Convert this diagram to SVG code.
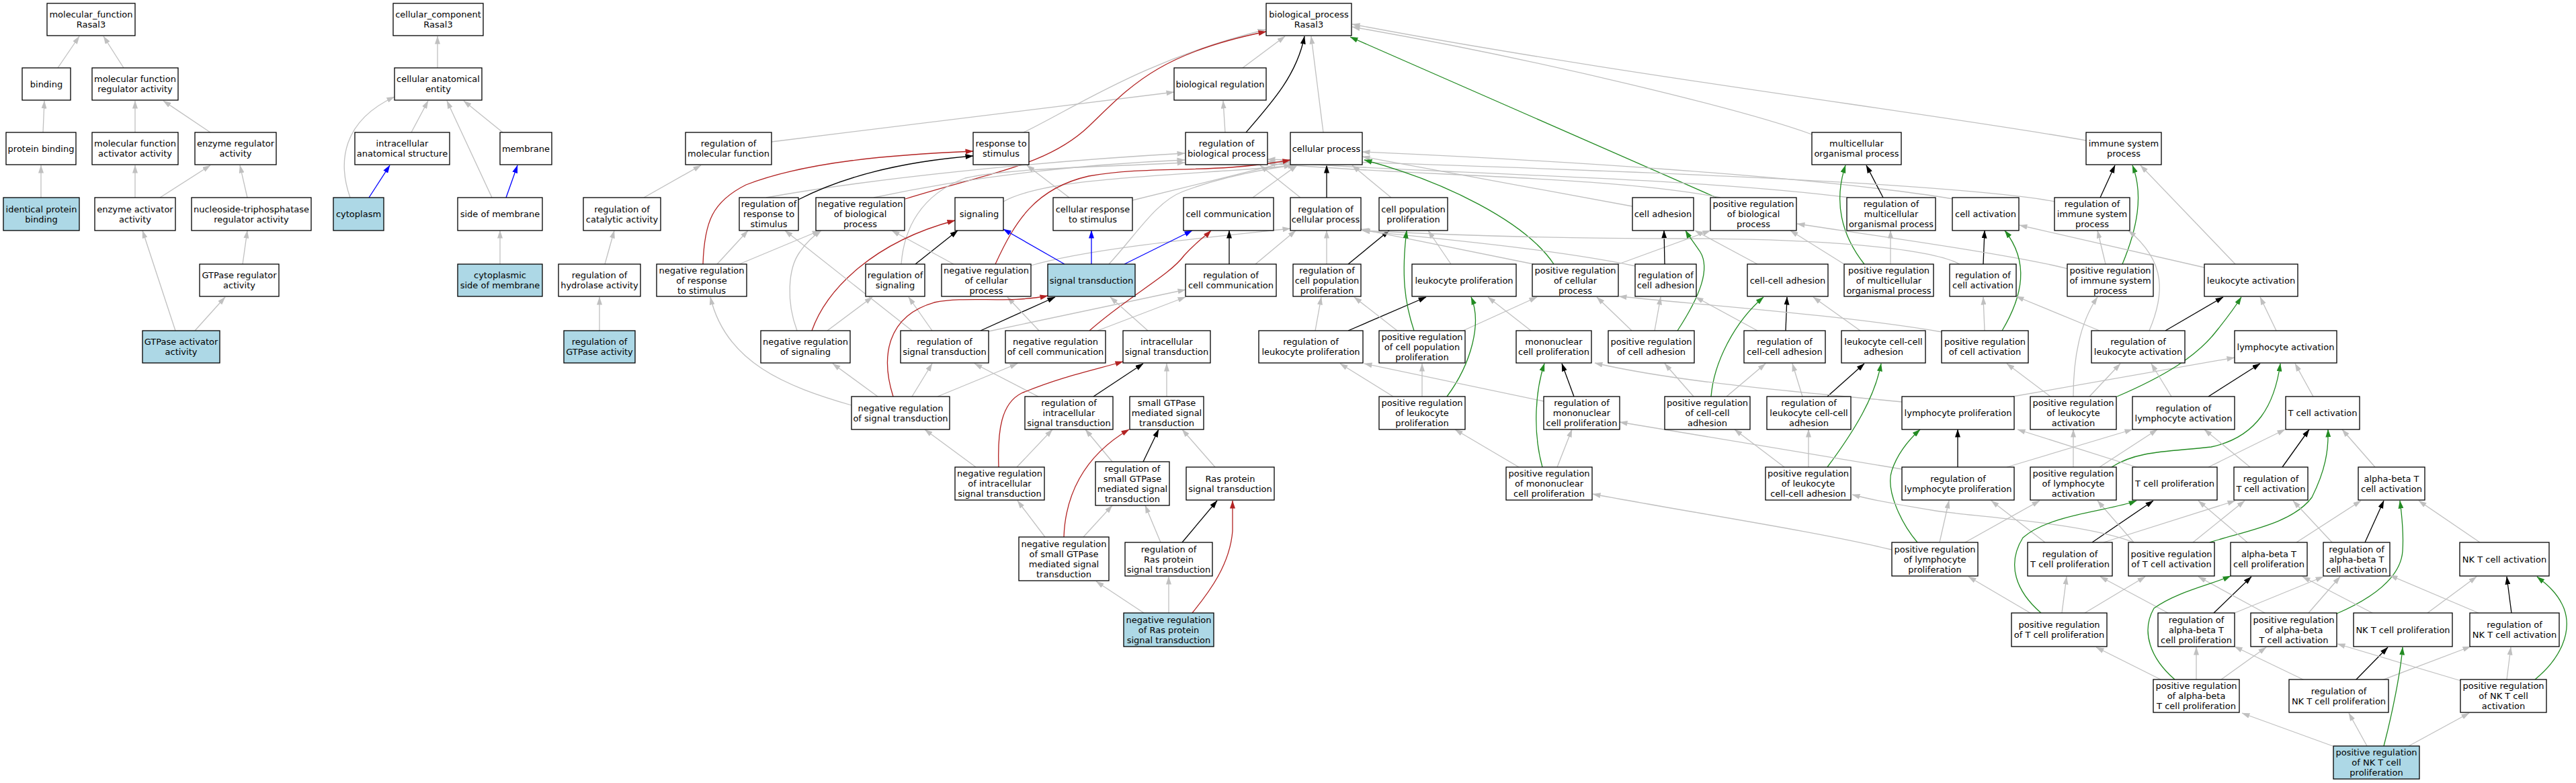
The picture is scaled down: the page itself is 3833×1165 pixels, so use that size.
<svg xmlns="http://www.w3.org/2000/svg" width="3833" height="1165" viewBox="0 0 3833 1165">
<style>
.n rect{fill:#fff;stroke:#000;stroke-width:1.3}
.n.q rect{fill:#ADD8E6}
.n text{font-family:"DejaVu Sans",Verdana,sans-serif;font-size:13px;text-anchor:middle;fill:#000}
.c path{fill:none;stroke-width:1.3}
.c .e{stroke:#C0C0C0;marker-end:url(#mg)}
.c .k{stroke:#000;marker-end:url(#mk)}
.c .r{stroke:#B22222;marker-end:url(#mr)}
.c .g{stroke:#228B22;marker-end:url(#mG)}
.c .b{stroke:#0000FF;marker-end:url(#mb)}
</style>
<defs>
<marker id="mg" viewBox="0 0 12 8" markerWidth="12" markerHeight="8" refX="11.5" refY="4" orient="auto" markerUnits="userSpaceOnUse"><path d="M0,0L12,4L0,8z" fill="#C0C0C0"/></marker>
<marker id="mk" viewBox="0 0 12 8" markerWidth="12" markerHeight="8" refX="11.5" refY="4" orient="auto" markerUnits="userSpaceOnUse"><path d="M0,0L12,4L0,8z" fill="#000"/></marker>
<marker id="mr" viewBox="0 0 12 8" markerWidth="12" markerHeight="8" refX="11.5" refY="4" orient="auto" markerUnits="userSpaceOnUse"><path d="M0,0L12,4L0,8z" fill="#B22222"/></marker>
<marker id="mG" viewBox="0 0 12 8" markerWidth="12" markerHeight="8" refX="11.5" refY="4" orient="auto" markerUnits="userSpaceOnUse"><path d="M0,0L12,4L0,8z" fill="#228B22"/></marker>
<marker id="mb" viewBox="0 0 12 8" markerWidth="12" markerHeight="8" refX="11.5" refY="4" orient="auto" markerUnits="userSpaceOnUse"><path d="M0,0L12,4L0,8z" fill="#0000FF"/></marker>
</defs>
<rect x="0" y="0" width="3833" height="1165" fill="#fff"/>
<g id="connectors" class="c">
<path class="e" d="M86,101L118,54"/>
<path class="e" d="M184,101L154,54"/>
<path class="e" d="M64,197L66,150"/>
<path class="e" d="M201,197L201,150"/>
<path class="e" d="M313,197L243,150"/>
<path class="e" d="M61,294L61,246"/>
<path class="e" d="M201,294L201,246"/>
<path class="e" d="M238,294L313,246"/>
<path class="e" d="M368,294L357,246"/>
<path class="e" d="M361,393L368,343"/>
<path class="e" d="M290,492L335,442"/>
<path class="e" d="M261,492L212,343"/>
<path class="e" d="M651,101L651,54"/>
<path class="e" d="M521,294C502,240 510,180 587,144"/>
<path class="b" d="M549,294L580,246"/>
<path class="e" d="M612,197L637,150"/>
<path class="e" d="M732,294L665,150"/>
<path class="e" d="M748,197L690,150"/>
<path class="b" d="M753,294L770,246"/>
<path class="e" d="M744,393L744,343"/>
<path class="e" d="M900,393L914,343"/>
<path class="e" d="M892,492L892,442"/>
<path class="e" d="M958,294L1043,246"/>
<path class="e" d="M1148,211L1747,137"/>
<path class="e" d="M1849,101L1912,54"/>
<path class="e" d="M1823,197L1820,150"/>
<path class="k" d="M1854,197C1895,150 1930,110 1941,54"/>
<path class="e" d="M1523,197C1600,160 1700,90 1883,44"/>
<path class="e" d="M1969,197L1951,54"/>
<path class="r" d="M1347,296C1480,255 1560,245 1620,188S1720,80 1884,47"/>
<path class="g" d="M2554,294L2009,55"/>
<path class="e" d="M2696,200C2600,165 2300,90 2012,40"/>
<path class="e" d="M3104,209C2900,172 2400,110 2012,36"/>
<path class="e" d="M1300,294C1450,262 1600,245 1763,238"/>
<path class="e" d="M2560,294C2400,262 2100,262 1886,243"/>
<path class="e" d="M1935,294L1875,246"/>
<path class="k" d="M1974,294L1974,246"/>
<path class="e" d="M1140,294C1300,265 1550,240 1763,228"/>
<path class="k" d="M1188,297C1260,260 1350,240 1448,232"/>
<path class="e" d="M1591,294L1528,246"/>
<path class="e" d="M1685,298L1920,240"/>
<path class="e" d="M1493,300C1560,262 1760,262 1928,246"/>
<path class="e" d="M1864,294L1930,246"/>
<path class="e" d="M2070,294L2012,246"/>
<path class="e" d="M2429,307L2027,233"/>
<path class="e" d="M2906,296C2700,262 2300,238 2027,226"/>
<path class="e" d="M2752,294C2500,262 2100,258 1886,240"/>
<path class="k" d="M2802,294L2777,246"/>
<path class="e" d="M3058,300C2900,270 2300,250 1886,237"/>
<path class="k" d="M3125,294L3147,246"/>
<path class="r" d="M1046,393C1048,330 1060,300 1110,275C1200,240 1330,230 1448,225"/>
<path class="e" d="M1067,393L1113,343"/>
<path class="e" d="M1100,393L1220,343"/>
<path class="e" d="M1341,393C1345,340 1370,290 1436,265C1500,250 1650,248 1763,242"/>
<path class="k" d="M1362,393L1425,343"/>
<path class="e" d="M1534,395C1620,370 1780,355 1920,340"/>
<path class="r" d="M1481,393C1510,330 1540,280 1620,262C1720,245 1800,260 1920,238"/>
<path class="e" d="M1419,393L1327,343"/>
<path class="b" d="M1584,393L1493,341"/>
<path class="b" d="M1624,393L1624,343"/>
<path class="b" d="M1673,393L1774,343"/>
<path class="e" d="M1650,393C1690,350 1720,300 1760,285C1820,262 1880,252 1922,246"/>
<path class="k" d="M1829,393L1829,343"/>
<path class="e" d="M1868,393L1928,343"/>
<path class="e" d="M1974,393L1974,343"/>
<path class="k" d="M2006,393L2067,343"/>
<path class="e" d="M2159,393L2125,343"/>
<path class="e" d="M2282,393L2025,341"/>
<path class="g" d="M2312,393C2270,330 2150,270 2030,238"/>
<path class="e" d="M2408,393L2545,343"/>
<path class="e" d="M2434,396C2300,368 2100,352 2027,343"/>
<path class="k" d="M2477,393L2476,343"/>
<path class="e" d="M2615,393L2522,343"/>
<path class="e" d="M2744,393L2664,343"/>
<path class="g" d="M2774,393C2740,350 2728,300 2746,246"/>
<path class="e" d="M2813,393L2813,343"/>
<path class="e" d="M2916,393C2870,368 2700,355 2500,355C2300,355 2120,348 2027,343"/>
<path class="k" d="M2951,393L2953,343"/>
<path class="e" d="M3077,400C3000,380 2800,352 2674,333"/>
<path class="e" d="M3133,393L3121,343"/>
<path class="g" d="M3158,393C3180,340 3190,290 3173,246"/>
<path class="e" d="M3326,393L3185,246"/>
<path class="e" d="M3280,398L3005,335"/>
<path class="e" d="M1231,492L1298,442"/>
<path class="r" d="M1208,492C1230,430 1300,360 1421,328"/>
<path class="e" d="M1186,492C1170,450 1172,400 1190,375C1200,360 1210,352 1222,343"/>
<path class="e" d="M1387,492L1352,442"/>
<path class="k" d="M1459,492L1570,442"/>
<path class="e" d="M1471,493L1764,431"/>
<path class="e" d="M1357,492L1168,343"/>
<path class="e" d="M1546,492L1499,442"/>
<path class="e" d="M1633,492L1764,442"/>
<path class="r" d="M1621,492C1680,440 1740,410 1762,380C1780,360 1795,350 1802,343"/>
<path class="e" d="M1708,492L1652,442"/>
<path class="e" d="M1957,492L1966,442"/>
<path class="k" d="M2006,492L2122,442"/>
<path class="e" d="M2079,492L2015,442"/>
<path class="e" d="M2177,492L2287,442"/>
<path class="g" d="M2104,492C2090,450 2085,410 2093,343"/>
<path class="e" d="M2278,492L2214,442"/>
<path class="e" d="M2462,492L2471,442"/>
<path class="e" d="M2428,492L2376,442"/>
<path class="g" d="M2496,492C2530,440 2545,400 2530,375C2520,360 2512,350 2508,343"/>
<path class="e" d="M2615,492L2523,442"/>
<path class="k" d="M2657,492L2659,442"/>
<path class="e" d="M2768,492L2698,442"/>
<path class="e" d="M2953,492L2951,442"/>
<path class="g" d="M2979,492C3010,440 3020,390 2983,343"/>
<path class="e" d="M2890,494C2750,470 2550,455 2409,441"/>
<path class="e" d="M3124,492L3000,441"/>
<path class="k" d="M3222,492L3308,442"/>
<path class="e" d="M3198,492C3220,440 3225,390 3167,343"/>
<path class="e" d="M3387,492L3363,442"/>
<path class="e" d="M1267,603C1170,575 1080,540 1057,442"/>
<path class="e" d="M1306,590L1239,541"/>
<path class="e" d="M1357,590L1387,541"/>
<path class="e" d="M1395,590L1514,541"/>
<path class="r" d="M1329,590C1310,530 1320,470 1390,450C1440,440 1500,452 1559,440"/>
<path class="e" d="M1545,590L1450,541"/>
<path class="k" d="M1627,590L1701,541"/>
<path class="e" d="M1736,590L1736,541"/>
<path class="e" d="M2073,590L1994,541"/>
<path class="e" d="M2116,590L2116,541"/>
<path class="g" d="M2153,590C2190,540 2205,480 2189,442"/>
<path class="e" d="M2297,597L2030,541"/>
<path class="k" d="M2342,590L2324,541"/>
<path class="e" d="M2569,590L2627,541"/>
<path class="e" d="M2520,590L2477,541"/>
<path class="g" d="M2546,590C2550,540 2580,480 2624,442"/>
<path class="e" d="M2682,590L2667,541"/>
<path class="k" d="M2719,590L2774,541"/>
<path class="e" d="M2830,598C2700,585 2500,570 2373,540"/>
<path class="e" d="M2995,590L3325,532"/>
<path class="e" d="M3109,590L3155,541"/>
<path class="e" d="M3051,590L2986,541"/>
<path class="g" d="M3150,590C3220,560 3270,530 3300,490C3320,465 3330,450 3335,442"/>
<path class="e" d="M3085,590C3085,530 3095,480 3121,442"/>
<path class="e" d="M3231,590L3201,541"/>
<path class="k" d="M3286,590L3363,541"/>
<path class="e" d="M3442,590L3415,541"/>
<path class="r" d="M1486,695C1484,640 1490,600 1520,585C1580,560 1630,550 1671,538"/>
<path class="e" d="M1452,695L1376,639"/>
<path class="e" d="M1513,695L1566,639"/>
<path class="e" d="M1655,687L1615,639"/>
<path class="k" d="M1701,687L1724,639"/>
<path class="e" d="M1808,695L1759,639"/>
<path class="e" d="M2317,695L2339,639"/>
<path class="g" d="M2295,695C2280,640 2285,580 2298,541"/>
<path class="e" d="M2260,695L2165,639"/>
<path class="e" d="M2691,695L2691,639"/>
<path class="e" d="M2655,695L2581,639"/>
<path class="g" d="M2719,695C2760,640 2790,590 2799,541"/>
<path class="e" d="M2830,698L2410,628"/>
<path class="k" d="M2913,695L2913,639"/>
<path class="e" d="M2986,695L3173,639"/>
<path class="e" d="M3124,695L3210,639"/>
<path class="e" d="M3085,695L3085,639"/>
<path class="g" d="M3142,695C3180,670 3230,672 3290,665C3360,650 3385,600 3393,541"/>
<path class="e" d="M3179,695L3002,639"/>
<path class="e" d="M3286,695L3400,639"/>
<path class="e" d="M3348,695L3280,639"/>
<path class="k" d="M3396,695L3436,639"/>
<path class="e" d="M3534,695L3485,639"/>
<path class="r" d="M1583,799C1585,740 1610,680 1680,639"/>
<path class="e" d="M1555,799L1514,745"/>
<path class="e" d="M1612,799L1655,752"/>
<path class="e" d="M1727,807L1704,752"/>
<path class="k" d="M1759,807L1811,745"/>
<path class="e" d="M2886,807L2900,745"/>
<path class="g" d="M2853,807C2830,780 2805,730 2815,700C2825,670 2845,650 2857,639"/>
<path class="e" d="M2815,818C2700,790 2500,760 2370,735"/>
<path class="e" d="M2924,807L3035,745"/>
<path class="e" d="M3043,807L2963,745"/>
<path class="k" d="M3113,807L3204,745"/>
<path class="e" d="M3130,807L3326,745"/>
<path class="e" d="M3263,807L3340,745"/>
<path class="e" d="M3175,807L3121,745"/>
<path class="g" d="M3288,807C3340,790 3410,780 3440,740C3460,700 3465,670 3464,639"/>
<path class="e" d="M3175,807C3100,778 2950,770 2880,760C2830,752 2790,745 2756,736"/>
<path class="e" d="M3344,807L3271,745"/>
<path class="e" d="M3417,807L3513,745"/>
<path class="k" d="M3519,807L3547,745"/>
<path class="e" d="M3470,807L3412,745"/>
<path class="e" d="M3690,807L3599,745"/>
<path class="r" d="M1774,912C1800,880 1830,840 1834,790L1834,745"/>
<path class="e" d="M1739,912L1739,858"/>
<path class="e" d="M1702,912L1631,865"/>
<path class="e" d="M3068,912L3075,858"/>
<path class="g" d="M3037,912C3000,880 2985,840 3010,800C3050,765 3140,760 3179,745"/>
<path class="e" d="M3021,912L2929,858"/>
<path class="e" d="M3102,912L3192,858"/>
<path class="e" d="M3226,912L3125,858"/>
<path class="k" d="M3294,912L3350,858"/>
<path class="e" d="M3325,912L3457,858"/>
<path class="e" d="M3370,912L3271,858"/>
<path class="e" d="M3435,912L3482,858"/>
<path class="g" d="M3477,913C3530,890 3572,860 3575,820C3577,790 3573,760 3571,745"/>
<path class="e" d="M3530,912L3426,858"/>
<path class="e" d="M3612,912L3685,858"/>
<path class="e" d="M3688,912L3556,856"/>
<path class="k" d="M3737,912L3730,858"/>
<path class="e" d="M3268,1011L3268,963"/>
<path class="g" d="M3236,1011C3200,980 3185,940 3205,905C3240,880 3290,870 3319,857"/>
<path class="e" d="M3215,1011L3119,963"/>
<path class="e" d="M3305,1011L3372,963"/>
<path class="e" d="M3429,1012L3325,962"/>
<path class="k" d="M3505,1012L3553,963"/>
<path class="e" d="M3544,1012L3676,962"/>
<path class="e" d="M3730,1011L3736,963"/>
<path class="g" d="M3772,1011C3810,980 3828,940 3815,905C3805,880 3785,866 3775,858"/>
<path class="e" d="M3662,1013L3478,958"/>
<path class="e" d="M3471,1110L3336,1061"/>
<path class="e" d="M3522,1110L3495,1061"/>
<path class="g" d="M3547,1110C3560,1060 3572,1000 3575,963"/>
<path class="e" d="M3584,1110L3674,1061"/>
</g>
<g id="mf" class="n"><rect x="70" y="5" width="131" height="48"/><text><tspan x="135.5" y="26">molecular_function</tspan><tspan x="135.5" y="41">Rasal3</tspan></text></g>
<g id="cc" class="n"><rect x="585" y="5" width="134" height="48"/><text><tspan x="652" y="26">cellular_component</tspan><tspan x="652" y="41">Rasal3</tspan></text></g>
<g id="bp" class="n"><rect x="1884" y="5" width="127" height="48"/><text><tspan x="1947.5" y="26">biological_process</tspan><tspan x="1947.5" y="41">Rasal3</tspan></text></g>
<g id="binding" class="n"><rect x="33" y="101" width="72" height="48"/><text><tspan x="69" y="129.5">binding</tspan></text></g>
<g id="mfreg" class="n"><rect x="137" y="101" width="128" height="48"/><text><tspan x="201" y="122">molecular function</tspan><tspan x="201" y="137">regulator activity</tspan></text></g>
<g id="cae" class="n"><rect x="587" y="101" width="130" height="48"/><text><tspan x="652" y="122">cellular anatomical</tspan><tspan x="652" y="137">entity</tspan></text></g>
<g id="bioreg" class="n"><rect x="1747" y="101" width="137" height="48"/><text><tspan x="1815.5" y="129.5">biological regulation</tspan></text></g>
<g id="pb" class="n"><rect x="9" y="197" width="104" height="48"/><text><tspan x="61" y="225.5">protein binding</tspan></text></g>
<g id="mfact" class="n"><rect x="137" y="197" width="128" height="48"/><text><tspan x="201" y="218">molecular function</tspan><tspan x="201" y="233">activator activity</tspan></text></g>
<g id="enzreg" class="n"><rect x="290" y="197" width="121" height="48"/><text><tspan x="350.5" y="218">enzyme regulator</tspan><tspan x="350.5" y="233">activity</tspan></text></g>
<g id="ias" class="n"><rect x="528" y="197" width="141" height="48"/><text><tspan x="598.5" y="218">intracellular</tspan><tspan x="598.5" y="233">anatomical structure</tspan></text></g>
<g id="membrane" class="n"><rect x="744" y="197" width="77" height="48"/><text><tspan x="782.5" y="225.5">membrane</tspan></text></g>
<g id="regmf" class="n"><rect x="1020" y="197" width="128" height="48"/><text><tspan x="1084" y="218">regulation of</tspan><tspan x="1084" y="233">molecular function</tspan></text></g>
<g id="rts" class="n"><rect x="1448" y="197" width="83" height="48"/><text><tspan x="1489.5" y="218">response to</tspan><tspan x="1489.5" y="233">stimulus</tspan></text></g>
<g id="regbp" class="n"><rect x="1764" y="197" width="122" height="48"/><text><tspan x="1825" y="218">regulation of</tspan><tspan x="1825" y="233">biological process</tspan></text></g>
<g id="cp" class="n"><rect x="1920" y="197" width="107" height="48"/><text><tspan x="1973.5" y="225.5">cellular process</tspan></text></g>
<g id="mop" class="n"><rect x="2696" y="197" width="133" height="48"/><text><tspan x="2762.5" y="218">multicellular</tspan><tspan x="2762.5" y="233">organismal process</tspan></text></g>
<g id="isp" class="n"><rect x="3104" y="197" width="112" height="48"/><text><tspan x="3160" y="218">immune system</tspan><tspan x="3160" y="233">process</tspan></text></g>
<g id="ipb" class="n q"><rect x="5" y="294" width="113" height="49"/><text><tspan x="61.5" y="315.5">identical protein</tspan><tspan x="61.5" y="330.5">binding</tspan></text></g>
<g id="enzact" class="n"><rect x="141" y="294" width="120" height="49"/><text><tspan x="201" y="315.5">enzyme activator</tspan><tspan x="201" y="330.5">activity</tspan></text></g>
<g id="ntpreg" class="n"><rect x="285" y="294" width="178" height="49"/><text><tspan x="374" y="315.5">nucleoside-triphosphatase</tspan><tspan x="374" y="330.5">regulator activity</tspan></text></g>
<g id="cyto" class="n q"><rect x="496" y="294" width="75" height="49"/><text><tspan x="533.5" y="323">cytoplasm</tspan></text></g>
<g id="som" class="n"><rect x="681" y="294" width="126" height="49"/><text><tspan x="744" y="323">side of membrane</tspan></text></g>
<g id="regcat" class="n"><rect x="868" y="294" width="115" height="49"/><text><tspan x="925.5" y="315.5">regulation of</tspan><tspan x="925.5" y="330.5">catalytic activity</tspan></text></g>
<g id="regrts" class="n"><rect x="1100" y="294" width="88" height="49"/><text><tspan x="1144" y="308">regulation of</tspan><tspan x="1144" y="323">response to</tspan><tspan x="1144" y="338">stimulus</tspan></text></g>
<g id="negbp" class="n"><rect x="1214" y="294" width="132" height="49"/><text><tspan x="1280" y="308">negative regulation</tspan><tspan x="1280" y="323">of biological</tspan><tspan x="1280" y="338">process</tspan></text></g>
<g id="sig" class="n"><rect x="1421" y="294" width="72" height="49"/><text><tspan x="1457" y="323">signaling</tspan></text></g>
<g id="crs" class="n"><rect x="1567" y="294" width="118" height="49"/><text><tspan x="1626" y="315.5">cellular response</tspan><tspan x="1626" y="330.5">to stimulus</tspan></text></g>
<g id="ccomm" class="n"><rect x="1761" y="294" width="134" height="49"/><text><tspan x="1828" y="323">cell communication</tspan></text></g>
<g id="regcp" class="n"><rect x="1920" y="294" width="105" height="49"/><text><tspan x="1972.5" y="315.5">regulation of</tspan><tspan x="1972.5" y="330.5">cellular process</tspan></text></g>
<g id="cpp" class="n"><rect x="2052" y="294" width="102" height="49"/><text><tspan x="2103" y="315.5">cell population</tspan><tspan x="2103" y="330.5">proliferation</tspan></text></g>
<g id="cadh" class="n"><rect x="2429" y="294" width="91" height="49"/><text><tspan x="2474.5" y="323">cell adhesion</tspan></text></g>
<g id="posbp" class="n"><rect x="2545" y="294" width="128" height="49"/><text><tspan x="2609" y="308">positive regulation</tspan><tspan x="2609" y="323">of biological</tspan><tspan x="2609" y="338">process</tspan></text></g>
<g id="regmop" class="n"><rect x="2748" y="294" width="132" height="49"/><text><tspan x="2814" y="308">regulation of</tspan><tspan x="2814" y="323">multicellular</tspan><tspan x="2814" y="338">organismal process</tspan></text></g>
<g id="cact" class="n"><rect x="2905" y="294" width="99" height="49"/><text><tspan x="2954.5" y="323">cell activation</tspan></text></g>
<g id="regisp" class="n"><rect x="3057" y="294" width="112" height="49"/><text><tspan x="3113" y="308">regulation of</tspan><tspan x="3113" y="323">immune system</tspan><tspan x="3113" y="338">process</tspan></text></g>
<g id="gtpreg" class="n"><rect x="297" y="393" width="118" height="48"/><text><tspan x="356" y="414">GTPase regulator</tspan><tspan x="356" y="429">activity</tspan></text></g>
<g id="csom" class="n q"><rect x="681" y="393" width="126" height="48"/><text><tspan x="744" y="414">cytoplasmic</tspan><tspan x="744" y="429">side of membrane</tspan></text></g>
<g id="reghyd" class="n"><rect x="831" y="393" width="122" height="48"/><text><tspan x="892" y="414">regulation of</tspan><tspan x="892" y="429">hydrolase activity</tspan></text></g>
<g id="negrts" class="n"><rect x="977" y="393" width="134" height="48"/><text><tspan x="1044" y="406.5">negative regulation</tspan><tspan x="1044" y="421.5">of response</tspan><tspan x="1044" y="436.5">to stimulus</tspan></text></g>
<g id="regsig" class="n"><rect x="1288" y="393" width="88" height="48"/><text><tspan x="1332" y="414">regulation of</tspan><tspan x="1332" y="429">signaling</tspan></text></g>
<g id="negcp" class="n"><rect x="1401" y="393" width="133" height="48"/><text><tspan x="1467.5" y="406.5">negative regulation</tspan><tspan x="1467.5" y="421.5">of cellular</tspan><tspan x="1467.5" y="436.5">process</tspan></text></g>
<g id="st" class="n q"><rect x="1559" y="393" width="130" height="48"/><text><tspan x="1624" y="421.5">signal transduction</tspan></text></g>
<g id="regcc" class="n"><rect x="1764" y="393" width="135" height="48"/><text><tspan x="1831.5" y="414">regulation of</tspan><tspan x="1831.5" y="429">cell communication</tspan></text></g>
<g id="regcpp" class="n"><rect x="1924" y="393" width="101" height="48"/><text><tspan x="1974.5" y="406.5">regulation of</tspan><tspan x="1974.5" y="421.5">cell population</tspan><tspan x="1974.5" y="436.5">proliferation</tspan></text></g>
<g id="lprol" class="n"><rect x="2101" y="393" width="155" height="48"/><text><tspan x="2178.5" y="421.5">leukocyte proliferation</tspan></text></g>
<g id="poscp" class="n"><rect x="2280" y="393" width="128" height="48"/><text><tspan x="2344" y="406.5">positive regulation</tspan><tspan x="2344" y="421.5">of cellular</tspan><tspan x="2344" y="436.5">process</tspan></text></g>
<g id="regcadh" class="n"><rect x="2433" y="393" width="91" height="48"/><text><tspan x="2478.5" y="414">regulation of</tspan><tspan x="2478.5" y="429">cell adhesion</tspan></text></g>
<g id="ccadh" class="n"><rect x="2600" y="393" width="120" height="48"/><text><tspan x="2660" y="421.5">cell-cell adhesion</tspan></text></g>
<g id="posmop" class="n"><rect x="2744" y="393" width="133" height="48"/><text><tspan x="2810.5" y="406.5">positive regulation</tspan><tspan x="2810.5" y="421.5">of multicellular</tspan><tspan x="2810.5" y="436.5">organismal process</tspan></text></g>
<g id="regcact" class="n"><rect x="2901" y="393" width="99" height="48"/><text><tspan x="2950.5" y="414">regulation of</tspan><tspan x="2950.5" y="429">cell activation</tspan></text></g>
<g id="posisp" class="n"><rect x="3076" y="393" width="128" height="48"/><text><tspan x="3140" y="406.5">positive regulation</tspan><tspan x="3140" y="421.5">of immune system</tspan><tspan x="3140" y="436.5">process</tspan></text></g>
<g id="lact" class="n"><rect x="3280" y="393" width="139" height="48"/><text><tspan x="3349.5" y="421.5">leukocyte activation</tspan></text></g>
<g id="gtpact" class="n q"><rect x="212" y="492" width="115" height="48"/><text><tspan x="269.5" y="513">GTPase activator</tspan><tspan x="269.5" y="528">activity</tspan></text></g>
<g id="reggtp" class="n q"><rect x="839" y="492" width="106" height="48"/><text><tspan x="892" y="513">regulation of</tspan><tspan x="892" y="528">GTPase activity</tspan></text></g>
<g id="negsig" class="n"><rect x="1132" y="492" width="133" height="48"/><text><tspan x="1198.5" y="513">negative regulation</tspan><tspan x="1198.5" y="528">of signaling</tspan></text></g>
<g id="regst" class="n"><rect x="1340" y="492" width="131" height="48"/><text><tspan x="1405.5" y="513">regulation of</tspan><tspan x="1405.5" y="528">signal transduction</tspan></text></g>
<g id="negcc" class="n"><rect x="1496" y="492" width="149" height="48"/><text><tspan x="1570.5" y="513">negative regulation</tspan><tspan x="1570.5" y="528">of cell communication</tspan></text></g>
<g id="ist" class="n"><rect x="1671" y="492" width="130" height="48"/><text><tspan x="1736" y="513">intracellular</tspan><tspan x="1736" y="528">signal transduction</tspan></text></g>
<g id="reglprol" class="n"><rect x="1873" y="492" width="155" height="48"/><text><tspan x="1950.5" y="513">regulation of</tspan><tspan x="1950.5" y="528">leukocyte proliferation</tspan></text></g>
<g id="poscpp" class="n"><rect x="2052" y="492" width="128" height="48"/><text><tspan x="2116" y="505.5">positive regulation</tspan><tspan x="2116" y="520.5">of cell population</tspan><tspan x="2116" y="535.5">proliferation</tspan></text></g>
<g id="mprol" class="n"><rect x="2256" y="492" width="112" height="48"/><text><tspan x="2312" y="513">mononuclear</tspan><tspan x="2312" y="528">cell proliferation</tspan></text></g>
<g id="poscadh" class="n"><rect x="2393" y="492" width="128" height="48"/><text><tspan x="2457" y="513">positive regulation</tspan><tspan x="2457" y="528">of cell adhesion</tspan></text></g>
<g id="regccadh" class="n"><rect x="2595" y="492" width="121" height="48"/><text><tspan x="2655.5" y="513">regulation of</tspan><tspan x="2655.5" y="528">cell-cell adhesion</tspan></text></g>
<g id="lccadh" class="n"><rect x="2740" y="492" width="125" height="48"/><text><tspan x="2802.5" y="513">leukocyte cell-cell</tspan><tspan x="2802.5" y="528">adhesion</tspan></text></g>
<g id="poscact" class="n"><rect x="2889" y="492" width="129" height="48"/><text><tspan x="2953.5" y="513">positive regulation</tspan><tspan x="2953.5" y="528">of cell activation</tspan></text></g>
<g id="reglact" class="n"><rect x="3112" y="492" width="139" height="48"/><text><tspan x="3181.5" y="513">regulation of</tspan><tspan x="3181.5" y="528">leukocyte activation</tspan></text></g>
<g id="lyact" class="n"><rect x="3325" y="492" width="152" height="48"/><text><tspan x="3401" y="520.5">lymphocyte activation</tspan></text></g>
<g id="negst" class="n"><rect x="1267" y="590" width="146" height="49"/><text><tspan x="1340" y="611.5">negative regulation</tspan><tspan x="1340" y="626.5">of signal transduction</tspan></text></g>
<g id="regist" class="n"><rect x="1525" y="590" width="131" height="49"/><text><tspan x="1590.5" y="604">regulation of</tspan><tspan x="1590.5" y="619">intracellular</tspan><tspan x="1590.5" y="634">signal transduction</tspan></text></g>
<g id="sgtp" class="n"><rect x="1681" y="590" width="110" height="49"/><text><tspan x="1736" y="604">small GTPase</tspan><tspan x="1736" y="619">mediated signal</tspan><tspan x="1736" y="634">transduction</tspan></text></g>
<g id="poslprol" class="n"><rect x="2052" y="590" width="128" height="49"/><text><tspan x="2116" y="604">positive regulation</tspan><tspan x="2116" y="619">of leukocyte</tspan><tspan x="2116" y="634">proliferation</tspan></text></g>
<g id="regmprol" class="n"><rect x="2297" y="590" width="113" height="49"/><text><tspan x="2353.5" y="604">regulation of</tspan><tspan x="2353.5" y="619">mononuclear</tspan><tspan x="2353.5" y="634">cell proliferation</tspan></text></g>
<g id="posccadh" class="n"><rect x="2477" y="590" width="127" height="49"/><text><tspan x="2540.5" y="604">positive regulation</tspan><tspan x="2540.5" y="619">of cell-cell</tspan><tspan x="2540.5" y="634">adhesion</tspan></text></g>
<g id="reglccadh" class="n"><rect x="2629" y="590" width="125" height="49"/><text><tspan x="2691.5" y="604">regulation of</tspan><tspan x="2691.5" y="619">leukocyte cell-cell</tspan><tspan x="2691.5" y="634">adhesion</tspan></text></g>
<g id="lyprol" class="n"><rect x="2830" y="590" width="167" height="49"/><text><tspan x="2913.5" y="619">lymphocyte proliferation</tspan></text></g>
<g id="poslact" class="n"><rect x="3021" y="590" width="128" height="49"/><text><tspan x="3085" y="604">positive regulation</tspan><tspan x="3085" y="619">of leukocyte</tspan><tspan x="3085" y="634">activation</tspan></text></g>
<g id="reglyact" class="n"><rect x="3173" y="590" width="152" height="49"/><text><tspan x="3249" y="611.5">regulation of</tspan><tspan x="3249" y="626.5">lymphocyte activation</tspan></text></g>
<g id="tact" class="n"><rect x="3401" y="590" width="110" height="49"/><text><tspan x="3456" y="619">T cell activation</tspan></text></g>
<g id="negist" class="n"><rect x="1421" y="695" width="133" height="49"/><text><tspan x="1487.5" y="709">negative regulation</tspan><tspan x="1487.5" y="724">of intracellular</tspan><tspan x="1487.5" y="739">signal transduction</tspan></text></g>
<g id="regsgtp" class="n"><rect x="1630" y="687" width="110" height="65"/><text><tspan x="1685" y="701.5">regulation of</tspan><tspan x="1685" y="716.5">small GTPase</tspan><tspan x="1685" y="731.5">mediated signal</tspan><tspan x="1685" y="746.5">transduction</tspan></text></g>
<g id="ras" class="n"><rect x="1765" y="695" width="131" height="49"/><text><tspan x="1830.5" y="716.5">Ras protein</tspan><tspan x="1830.5" y="731.5">signal transduction</tspan></text></g>
<g id="posmprol" class="n"><rect x="2241" y="695" width="128" height="49"/><text><tspan x="2305" y="709">positive regulation</tspan><tspan x="2305" y="724">of mononuclear</tspan><tspan x="2305" y="739">cell proliferation</tspan></text></g>
<g id="poslccadh" class="n"><rect x="2627" y="695" width="127" height="49"/><text><tspan x="2690.5" y="709">positive regulation</tspan><tspan x="2690.5" y="724">of leukocyte</tspan><tspan x="2690.5" y="739">cell-cell adhesion</tspan></text></g>
<g id="reglyprol" class="n"><rect x="2830" y="695" width="167" height="49"/><text><tspan x="2913.5" y="716.5">regulation of</tspan><tspan x="2913.5" y="731.5">lymphocyte proliferation</tspan></text></g>
<g id="poslyact" class="n"><rect x="3021" y="695" width="128" height="49"/><text><tspan x="3085" y="709">positive regulation</tspan><tspan x="3085" y="724">of lymphocyte</tspan><tspan x="3085" y="739">activation</tspan></text></g>
<g id="tprol" class="n"><rect x="3173" y="695" width="126" height="49"/><text><tspan x="3236" y="724">T cell proliferation</tspan></text></g>
<g id="regtact" class="n"><rect x="3324" y="695" width="110" height="49"/><text><tspan x="3379" y="716.5">regulation of</tspan><tspan x="3379" y="731.5">T cell activation</tspan></text></g>
<g id="abtact" class="n"><rect x="3509" y="695" width="99" height="49"/><text><tspan x="3558.5" y="716.5">alpha-beta T</tspan><tspan x="3558.5" y="731.5">cell activation</tspan></text></g>
<g id="negsgtp" class="n"><rect x="1516" y="799" width="134" height="65"/><text><tspan x="1583" y="814">negative regulation</tspan><tspan x="1583" y="829">of small GTPase</tspan><tspan x="1583" y="844">mediated signal</tspan><tspan x="1583" y="859">transduction</tspan></text></g>
<g id="regras" class="n"><rect x="1674" y="807" width="130" height="50"/><text><tspan x="1739" y="821.5">regulation of</tspan><tspan x="1739" y="836.5">Ras protein</tspan><tspan x="1739" y="851.5">signal transduction</tspan></text></g>
<g id="poslyprol" class="n"><rect x="2815" y="807" width="128" height="50"/><text><tspan x="2879" y="821.5">positive regulation</tspan><tspan x="2879" y="836.5">of lymphocyte</tspan><tspan x="2879" y="851.5">proliferation</tspan></text></g>
<g id="regtprol" class="n"><rect x="3017" y="807" width="126" height="50"/><text><tspan x="3080" y="829">regulation of</tspan><tspan x="3080" y="844">T cell proliferation</tspan></text></g>
<g id="postact" class="n"><rect x="3167" y="807" width="128" height="50"/><text><tspan x="3231" y="829">positive regulation</tspan><tspan x="3231" y="844">of T cell activation</tspan></text></g>
<g id="abtprol" class="n"><rect x="3319" y="807" width="114" height="50"/><text><tspan x="3376" y="829">alpha-beta T</tspan><tspan x="3376" y="844">cell proliferation</tspan></text></g>
<g id="regabtact" class="n"><rect x="3457" y="807" width="99" height="50"/><text><tspan x="3506.5" y="821.5">regulation of</tspan><tspan x="3506.5" y="836.5">alpha-beta T</tspan><tspan x="3506.5" y="851.5">cell activation</tspan></text></g>
<g id="nktact" class="n"><rect x="3660" y="807" width="133" height="50"/><text><tspan x="3726.5" y="836.5">NK T cell activation</tspan></text></g>
<g id="negras" class="n q"><rect x="1672" y="912" width="134" height="50"/><text><tspan x="1739" y="926.5">negative regulation</tspan><tspan x="1739" y="941.5">of Ras protein</tspan><tspan x="1739" y="956.5">signal transduction</tspan></text></g>
<g id="postprol" class="n"><rect x="2993" y="912" width="142" height="50"/><text><tspan x="3064" y="934">positive regulation</tspan><tspan x="3064" y="949">of T cell proliferation</tspan></text></g>
<g id="regabtprol" class="n"><rect x="3211" y="912" width="114" height="50"/><text><tspan x="3268" y="926.5">regulation of</tspan><tspan x="3268" y="941.5">alpha-beta T</tspan><tspan x="3268" y="956.5">cell proliferation</tspan></text></g>
<g id="posabtact" class="n"><rect x="3349" y="912" width="128" height="50"/><text><tspan x="3413" y="926.5">positive regulation</tspan><tspan x="3413" y="941.5">of alpha-beta</tspan><tspan x="3413" y="956.5">T cell activation</tspan></text></g>
<g id="nktprol" class="n"><rect x="3502" y="912" width="147" height="50"/><text><tspan x="3575.5" y="941.5">NK T cell proliferation</tspan></text></g>
<g id="regnktact" class="n"><rect x="3675" y="912" width="133" height="50"/><text><tspan x="3741.5" y="934">regulation of</tspan><tspan x="3741.5" y="949">NK T cell activation</tspan></text></g>
<g id="posabtprol" class="n"><rect x="3204" y="1011" width="128" height="49"/><text><tspan x="3268" y="1025">positive regulation</tspan><tspan x="3268" y="1040">of alpha-beta</tspan><tspan x="3268" y="1055">T cell proliferation</tspan></text></g>
<g id="regnktprol" class="n"><rect x="3406" y="1011" width="148" height="49"/><text><tspan x="3480" y="1032.5">regulation of</tspan><tspan x="3480" y="1047.5">NK T cell proliferation</tspan></text></g>
<g id="posnktact" class="n"><rect x="3661" y="1011" width="128" height="49"/><text><tspan x="3725" y="1025">positive regulation</tspan><tspan x="3725" y="1040">of NK T cell</tspan><tspan x="3725" y="1055">activation</tspan></text></g>
<g id="posnktprol" class="n q"><rect x="3472" y="1110" width="128" height="49"/><text><tspan x="3536" y="1124">positive regulation</tspan><tspan x="3536" y="1139">of NK T cell</tspan><tspan x="3536" y="1154">proliferation</tspan></text></g>
</svg>
